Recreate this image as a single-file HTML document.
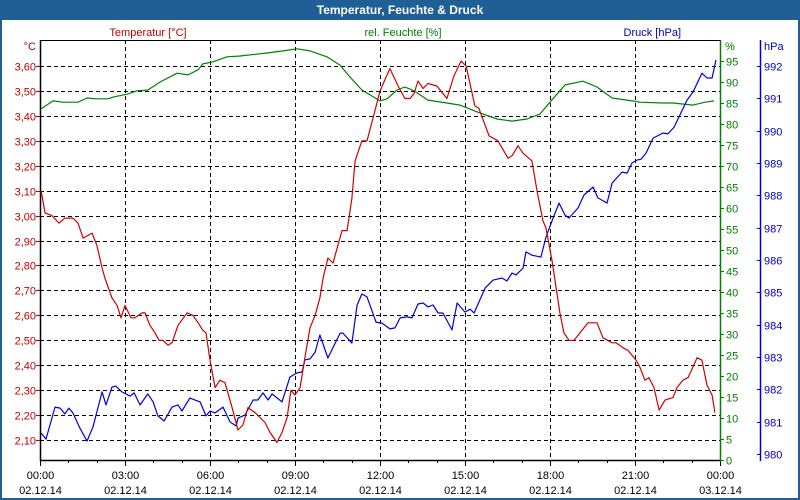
<!DOCTYPE html>
<html><head><meta charset="utf-8">
<style>
html,body{margin:0;padding:0;background:#fff;}
#wrap{width:800px;height:500px;position:relative;overflow:hidden;}
svg text{font-family:"Liberation Sans","DejaVu Sans",sans-serif;font-size:11px;}
</style></head>
<body>
<div id="wrap">
<svg id="chart" width="800" height="500" viewBox="0 0 800 500">
<rect x="0" y="0" width="800" height="500" fill="#1f5f96"/>
<rect x="2" y="20" width="796" height="478" fill="#ffffff"/>
<text x="400" y="14" text-anchor="middle" fill="#fff" font-weight="bold" style="font-size:12px">Temperatur, Feuchte &amp; Druck</text>
<text x="148" y="36" text-anchor="middle" fill="#c00000">Temperatur [°C]</text>
<text x="403" y="36" text-anchor="middle" fill="#008000">rel. Feuchte [%]</text>
<text x="681" y="36" text-anchor="end" fill="#0000c0">Druck [hPa]</text>
<text x="36" y="50" text-anchor="end" fill="#c00000">°C</text>
<text x="725" y="50" fill="#008000">%</text>
<text x="764" y="50" fill="#0000c0">hPa</text>
<g id="grid"></g>
<g id="axes"></g>
<g id="series"></g>
</svg>
</div>
<script>
// ---- data ----
const tempTimes=[0.04,0.18,0.42,0.67,0.88,0.99,1.16,1.34,1.52,1.84,2.01,2.19,2.29,2.54,2.72,2.86,3.00,3.21,3.35,3.60,3.71,3.88,4.06,4.20,4.34,4.52,4.66,4.87,5.19,5.40,5.58,5.75,5.86,6.00,6.18,6.35,6.53,6.78,6.99,7.16,7.34,7.59,7.94,8.12,8.36,8.54,8.72,8.86,9.00,9.18,9.35,9.53,9.71,9.88,9.99,10.16,10.34,10.66,10.84,11.01,11.12,11.36,11.54,11.82,12.00,12.35,12.64,12.88,13.06,13.20,13.34,13.52,13.69,14.01,14.36,14.61,14.86,15.04,15.35,15.49,15.85,16.16,16.52,16.66,16.87,17.05,17.36,17.54,17.75,17.86,18.07,18.35,18.49,18.67,18.85,19.06,19.34,19.66,19.87,20.19,20.33,20.58,20.75,21.04,21.18,21.35,21.49,21.67,21.85,22.06,22.34,22.48,22.69,22.87,23.19,23.36,23.54,23.72,23.82];
const tempValues=[3.10,3.01,3.00,2.97,2.99,2.99,2.99,2.97,2.91,2.93,2.88,2.79,2.75,2.67,2.64,2.59,2.64,2.59,2.59,2.61,2.61,2.56,2.53,2.50,2.50,2.48,2.49,2.56,2.61,2.60,2.57,2.54,2.53,2.42,2.31,2.34,2.33,2.23,2.14,2.16,2.23,2.21,2.17,2.13,2.09,2.13,2.19,2.30,2.28,2.31,2.43,2.55,2.60,2.67,2.75,2.83,2.81,2.94,2.94,3.07,3.22,3.30,3.30,3.42,3.50,3.59,3.52,3.47,3.47,3.49,3.54,3.51,3.53,3.52,3.47,3.56,3.62,3.60,3.44,3.43,3.32,3.30,3.23,3.24,3.28,3.25,3.22,3.10,2.98,2.95,2.82,2.61,2.53,2.50,2.50,2.53,2.57,2.57,2.51,2.49,2.49,2.47,2.46,2.42,2.39,2.34,2.35,2.31,2.22,2.26,2.27,2.31,2.34,2.35,2.43,2.42,2.32,2.28,2.21];
const humTimes=[0.04,0.46,0.81,1.34,1.66,2.01,2.40,2.58,3.07,3.42,3.81,4.24,4.84,5.22,5.58,5.75,6.11,6.60,7.06,8.01,8.58,9.07,9.53,10.13,10.59,10.94,11.36,12.00,12.25,12.60,12.88,13.20,13.69,14.36,14.82,15.42,16.13,16.66,17.19,17.65,18.00,18.53,19.16,19.66,20.19,20.72,21.18,21.99,22.34,23.05,23.47,23.79];
const humValues=[83.6,85.5,85.2,85.2,86.2,86.0,86.0,86.4,87.1,87.9,88.1,90.0,92.1,91.7,92.9,94.3,94.8,96.0,96.2,96.9,97.4,97.9,97.4,96.0,94.0,91.2,88.1,85.5,86.0,88.1,88.8,87.9,85.7,85.0,84.5,82.9,81.2,80.7,81.2,82.4,85.2,89.3,90.2,88.8,86.2,85.7,85.2,85.0,85.0,84.5,85.2,85.5];
const presTimes=[0.04,0.21,0.53,0.71,0.88,1.02,1.16,1.41,1.66,1.87,2.19,2.33,2.54,2.68,2.89,3.18,3.32,3.53,3.81,3.99,4.16,4.38,4.66,4.87,5.01,5.29,5.65,5.86,6.00,6.18,6.46,6.71,6.92,6.99,7.24,7.52,7.69,7.87,8.05,8.19,8.54,8.82,9.07,9.25,9.35,9.53,9.71,9.88,10.16,10.59,10.69,11.01,11.19,11.36,11.54,11.86,12.07,12.35,12.53,12.71,12.95,13.13,13.34,13.52,13.69,13.87,14.05,14.22,14.54,14.72,15.00,15.18,15.32,15.71,15.99,16.31,16.48,16.66,16.80,17.05,17.15,17.36,17.68,17.86,18.11,18.32,18.53,18.67,18.99,19.20,19.52,19.69,20.01,20.19,20.54,20.72,20.89,21.07,21.21,21.39,21.64,21.99,22.16,22.38,22.55,22.84,23.05,23.36,23.54,23.72,23.86];
const presValues=[980.65,980.46,981.45,981.42,981.24,981.42,981.27,980.80,980.40,980.84,981.92,981.52,982.07,982.10,981.92,981.79,981.89,981.52,981.86,981.61,981.18,981.02,981.45,981.52,981.33,981.73,981.61,981.18,981.33,981.27,981.45,980.99,980.87,981.11,981.21,981.67,981.67,981.89,981.67,981.86,981.61,982.38,982.51,982.54,982.91,982.94,983.15,983.68,982.97,983.74,983.74,983.43,984.61,984.95,984.86,984.08,984.05,983.87,983.90,984.21,984.24,984.21,984.64,984.67,984.55,984.61,984.36,984.36,983.84,984.67,984.39,984.48,984.36,985.13,985.38,985.44,985.35,985.60,985.54,985.75,986.25,986.15,986.09,986.71,987.30,987.76,987.39,987.30,987.61,988.01,988.26,987.92,987.76,988.38,988.72,988.69,989.00,989.09,989.12,989.31,989.77,989.93,989.90,990.11,990.42,990.95,991.20,991.78,991.63,991.63,992.19];
const tempTicks=["2,10","2,20","2,30","2,40","2,50","2,60","2,70","2,80","2,90","3,00","3,10","3,20","3,30","3,40","3,50","3,60"];
const humTicks=[0,5,10,15,20,25,30,35,40,45,50,55,60,65,70,75,80,85,90,95];
const presTicks=[980,981,982,983,984,985,986,987,988,989,990,991,992];
const timeTicks=["00:00","03:00","06:00","09:00","12:00","15:00","18:00","21:00","00:00"];
const dateTicks=["02.12.14","02.12.14","02.12.14","02.12.14","02.12.14","02.12.14","02.12.14","02.12.14","03.12.14"];

// ---- scales ----
const L=40,R=720,T=40,B=460;
const xS=h=>L+h*(R-L)/24;
const yT=t=>440-(t-2.10)*249.3;
const yH=v=>B-v*4.2;
const yP=p=>454-(p-980)*32.33;
const NS="http://www.w3.org/2000/svg";
function mk(tag,attrs,parent){const e=document.createElementNS(NS,tag);for(const k in attrs)e.setAttribute(k,attrs[k]);parent.appendChild(e);return e;}
const grid=document.getElementById('grid'),axes=document.getElementById('axes'),series=document.getElementById('series');

tempTicks.forEach((lab,i)=>{const v=parseFloat(lab.replace(',','.'));const y=Math.round(yT(v))+0.5;
 const g=mk('line',{x1:L,x2:R,y1:y,y2:y,stroke:'#000','stroke-dasharray':'4,3','stroke-width':1},grid);
 
 
 const tk=mk('line',{x1:L-4,x2:L,y1:y,y2:y,stroke:'#c00000','stroke-width':1},axes);
 
 
 const t=mk('text',{x:36,y:y+4,'text-anchor':'end',fill:'#c00000'},axes);t.textContent=lab;
 
 
});
timeTicks.forEach((lab,i)=>{const x=Math.round(xS(i*3))+0.5;
 if(i>0&&i<8){const g=mk('line',{x1:x,x2:x,y1:T,y2:B,stroke:'#000','stroke-dasharray':'4,3','stroke-width':1},grid);
 
 }
 const t=mk('text',{x:x,y:479,'text-anchor':'middle',fill:'#000'},axes);t.textContent=lab;
 
 
 const d=mk('text',{x:x,y:494,'text-anchor':'middle',fill:'#000'},axes);d.textContent=dateTicks[i];
 
 
});
for(let h=0;h<=24;h++){const x=Math.round(xS(h))+0.5;
 const tk=mk('line',{x1:x,x2:x,y1:B,y2:B+(h%3===0?6:3),stroke:'#000'},axes);
 
 }
humTicks.forEach(v=>{const y=Math.round(yH(v))+0.5;
 const tk=mk('line',{x1:R,x2:R+4,y1:y,y2:y,stroke:'#008000'},axes);
 
 
 const t=mk('text',{x:726,y:y+4,fill:'#008000'},axes);t.textContent=v;
 
 
});
presTicks.forEach(v=>{const y=Math.round(yP(v))+0.5;
 const tk=mk('line',{x1:757,x2:761,y1:y,y2:y,stroke:'#0000c0'},axes);
 
 
 const t=mk('text',{x:764,y:y+4,fill:'#0000c0'},axes);t.textContent=v;
 
 
});
const a1=mk('line',{x1:L+0.5,x2:L+0.5,y1:T,y2:B+1,stroke:'#000','stroke-width':1.5},axes);


const a2=mk('line',{x1:L,x2:R,y1:B+0.5,y2:B+0.5,stroke:'#000','stroke-width':1.5},axes);


const a3=mk('line',{x1:L,x2:R,y1:T+0.5,y2:T+0.5,stroke:'#000','stroke-width':1},axes);


const a4=mk('line',{x1:R+0.5,x2:R+0.5,y1:T,y2:B+1,stroke:'#008000','stroke-width':1.5},axes);


const a5=mk('line',{x1:760.5,x2:760.5,y1:T,y2:B+1,stroke:'#0000c0','stroke-width':1.5},axes);



function line(ts,vs,ys,color,name){
 const d=ts.map((t,i)=>(i?'L':'M')+xS(t).toFixed(1)+','+ys(vs[i]).toFixed(1)).join(' ');
 const p=mk('path',{d:d,fill:'none',stroke:color,'stroke-width':1.2,'stroke-linejoin':'round'},series);
 
 
}
line(humTimes,humValues,yH,'#008000','humidity-line');
line(presTimes,presValues,yP,'#0000e0','pressure-line');
line(tempTimes,tempValues,yT,'#d00000','temperature-line');
</script>
</body></html>
